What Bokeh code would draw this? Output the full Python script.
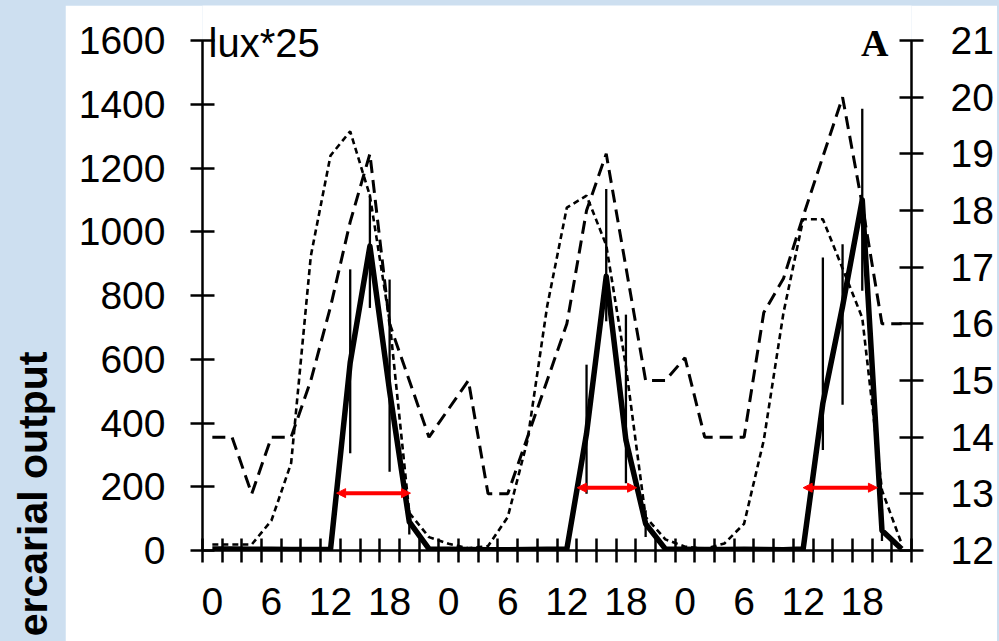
from bokeh.plotting import figure
from bokeh.models import (Range1d, LinearAxis, FixedTicker, Label, Arrow, NormalHead,
                          ColumnDataSource, Spacer)
from bokeh.layouts import row, column
from bokeh.embed import file_html
from bokeh.resources import INLINE

# ---------------- data ----------------
hours = [0, 2, 4, 6, 8, 10, 12, 14, 16, 18, 20, 22] * 3          # 3 days, 2-h categories
tick_labels = ["0", "6", "12", "18"] * 3                          # every 3rd category

# cercarial output (left axis)
output = [5, 5, 4, 4, 3, 3, 3, 590, 955, 500, 90, 5,
          4, 3, 2, 2, 3, 4, 5, 367, 860, 346, 84, 5,
          4, 3, 3, 4, 3, 2, 5, 462, 766, 1100, 63, 5]

# error bars (category index, low, high)
bar_idx = [7, 8, 9, 10, 19, 20, 21, 22, 31, 32, 33, 34]
bar_low = [305, 761, 247, 50, 178, 719, 211, 42, 315, 457, 815, 30]
bar_high = [882, 1118, 850, 126, 583, 1134, 740, 126, 919, 961, 1386, 130]

# water temperature (right axis, degC)
temperature = [14.0, 14.0, 13.0, 14.0, 14.0, 15.0, 16.3, 17.8, 19.0, 16.0, 15.0, 14.0,
               14.5, 15.0, 13.0, 13.0, 14.0, 15.0, 16.0, 18.0, 19.0, 17.0, 15.0, 15.0,
               15.4, 14.0, 14.0, 14.0, 16.2, 16.8, 17.9, 18.95, 20.0, 18.1, 16.0, 16.0]

# light intensity, lux*25 (left axis)
lux25 = [19, 19, 19, 94, 274, 924, 1239, 1315, 1113, 720, 118, 42,
         21, 7, 14, 105, 345, 766, 1076, 1113, 958, 577, 105, 35,
         12, 5, 22, 84, 346, 746, 1039, 1039, 885, 730, 189, 21]

# red double arrows (emission period), in category units
arrow_start = [6.31, 18.53, 30.0]
arrow_end = [10.06, 21.54, 33.77]
arrow_level = [180, 197, 197]

# axis extents
left_min, left_max = 0, 1600
right_min, right_max = 12, 21

# ---------------- styling / layout ----------------
BLUE = "#cddff0"
FONT = "Liberation Sans"
n = len(hours)
xs = list(range(n))

AXIS_PX = 510      # pixel height of the 0..1600 axis
HEAD_PX = 35       # free white space above the axes (holds the corner texts)
grow = (AXIS_PX + HEAD_PX) / AXIS_PX

p = figure(width=932, height=636, x_range=Range1d(-0.5, n - 0.5),
           y_range=Range1d(left_min, left_min + (left_max - left_min) * grow),
           x_axis_type=None, y_axis_type=None, output_backend="svg", toolbar_location=None,
           min_border_left=137, min_border_right=86, min_border_top=0, min_border_bottom=91,
           background_fill_color="white", border_fill_color="white", outline_line_color=None)
p.extra_y_ranges = {"temp": Range1d(right_min, right_min + (right_max - right_min) * grow)}


def style_axis(ax, standoff):
    ax.axis_line_color = "black"
    ax.axis_line_width = 2.5
    ax.major_tick_line_color = "black"
    ax.major_tick_line_width = 2.5
    ax.major_tick_in = 12
    ax.major_tick_out = 12
    ax.minor_tick_line_color = None
    ax.major_label_text_font = FONT
    ax.major_label_text_font_size = "39px"
    ax.major_label_text_color = "black"
    ax.major_label_standoff = standoff


yl = LinearAxis(ticker=FixedTicker(ticks=list(range(left_min, left_max + 1, 200))),
                bounds=(left_min, left_max))
style_axis(yl, 25)
p.add_layout(yl, "left")

yr = LinearAxis(y_range_name="temp", ticker=FixedTicker(ticks=list(range(right_min, right_max + 1))),
                bounds=(right_min, right_max))
style_axis(yr, 27)
p.add_layout(yr, "right")

xa = LinearAxis(ticker=FixedTicker(ticks=[i for i in xs if i % 3 == 0],
                                   minor_ticks=[i - 0.5 for i in range(n + 1)]),
                major_label_overrides={i: tick_labels[k] for k, i in enumerate(range(0, n, 3))})
style_axis(xa, 25)
xa.major_tick_line_color = None
xa.minor_tick_line_color = "black"
xa.minor_tick_line_width = 2.5
xa.minor_tick_in = 12
xa.minor_tick_out = 12
p.add_layout(xa, "below")

# series
p.line(xs, lux25, line_color="black", line_width=2.6, line_dash="6 4")
p.line(xs, temperature, y_range_name="temp", line_color="black", line_width=3, line_dash="13 7")
p.line(xs, output, line_color="black", line_width=5.5, line_join="round")
p.segment(x0=bar_idx, y0=bar_low, x1=bar_idx, y1=bar_high, line_color="black", line_width=2.3)

asrc = ColumnDataSource(dict(x0=arrow_start, x1=arrow_end, y=arrow_level))
p.add_layout(Arrow(start=NormalHead(size=9, fill_color="red", line_color="red"),
                   end=NormalHead(size=9, fill_color="red", line_color="red"),
                   x_start="x0", y_start="y", x_end="x1", y_end="y", source=asrc,
                   line_color="red", line_width=4))

p.add_layout(Label(x=-0.5, y=left_max, x_offset=6, y_offset=-2, text="lux*25",
                   text_font=FONT, text_font_size="40px", text_baseline="middle",
                   text_align="left", text_color="black"))
p.add_layout(Label(x=n - 0.5, y=left_max, x_offset=-23, y_offset=-2, text="A",
                   text_font="Liberation Serif", text_font_style="bold", text_font_size="38px",
                   text_baseline="middle", text_align="right", text_color="black"))

# left strip with y-axis title (as cropped in the reference)
lf = figure(width=65, height=641, x_range=Range1d(0, 65), y_range=Range1d(0, 641),
            x_axis_type=None, y_axis_type=None, output_backend="svg", toolbar_location=None,
            min_border=0, background_fill_color=BLUE, border_fill_color=BLUE,
            outline_line_color=None)
lf.add_layout(Label(x=32, y=641 - 351, text="ercarial output", angle=90, angle_units="deg",
                    text_align="right", text_baseline="middle", text_font=FONT,
                    text_font_style="bold", text_font_size="41px", text_color="black"))

root = row(lf, column(Spacer(width=932, height=5), p, spacing=0), Spacer(width=2, height=641),
           spacing=0, styles={"background-color": BLUE})

open("out.html", "w").write(file_html(root, INLINE))
